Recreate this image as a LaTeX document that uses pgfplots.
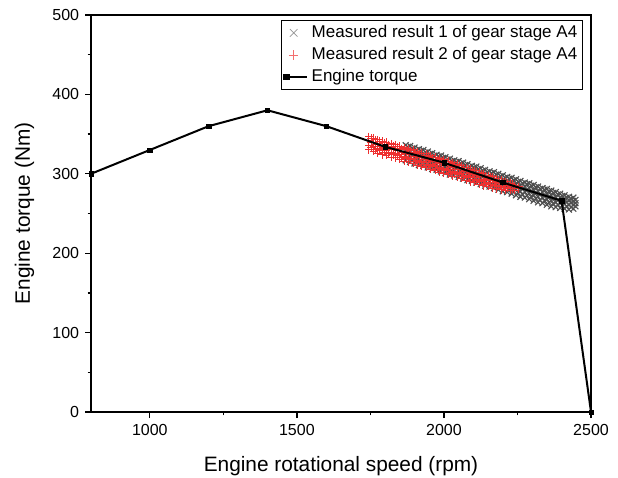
\documentclass[border=0pt]{standalone}
\usepackage{pgfplots}
\pgfplotsset{compat=1.18}
\usepackage{fontspec}
\setmainfont{Liberation Sans}
\definecolor{mgray}{RGB}{78,78,78}
\definecolor{lgray}{RGB}{150,150,150}
\definecolor{mred}{RGB}{238,48,48}
\begin{document}
\begin{tikzpicture}
\begin{axis}[
  set layers,
  scale only axis, width=300pt, height=238.2pt,
  xmin=800, xmax=2500, ymin=0, ymax=500,
  axis lines=box, tick pos=left, tick align=outside,
  xtick={1000,1500,2000,2500}, ytick={0,100,200,300,400,500},
  minor x tick num=1, minor y tick num=1,
  major tick length=3.6pt, minor tick length=2pt,
  axis line style={line width=0.8pt}, every tick/.style={line width=0.8pt, black},
  tick label style={font=\fontsize{9.6}{11}\selectfont},
  /pgf/number format/assume math mode=true,
  /pgf/number format/1000 sep={},
  xlabel={Engine rotational speed (rpm)}, ylabel={Engine torque (Nm)},
  label style={font=\fontsize{12.5}{14}\selectfont},
  xlabel style={yshift=-6pt}, ylabel style={yshift=4pt},
  legend style={at={(rel axis cs:0.984,0.988)}, anchor=north east, font=\fontsize{10.2}{12}\selectfont, draw=black, line width=0.5pt, inner sep=1.2pt, row sep=0.3pt, /tikz/every even column/.append style={column sep=2pt}},
  legend cell align=left,
]
\addplot[only marks, mark=x, mark size=2.5pt, color=mgray, line width=0.65pt,
  legend image code/.code={\draw[lgray, line width=0.4pt] (0.08cm,-0.08cm) -- (0.24cm,0.08cm) (0.08cm,0.08cm) -- (0.24cm,-0.08cm);}] table {
x y
1870 317
1870 324
1870 331
1870 336
1885 315
1885 322
1885 329
1885 335
1900 313
1900 320
1900 327
1900 333
1915 311
1915 319
1915 326
1915 331
1930 310
1930 317
1930 324
1930 330
1945 308
1945 315
1945 322
1945 328
1960 306
1960 313
1960 320
1960 326
1975 305
1975 312
1975 319
1975 324
1990 303
1990 310
1990 317
1990 323
2005 301
2005 308
2005 315
2005 321
2020 299
2020 306
2020 313
2020 319
2035 298
2035 305
2035 312
2035 317
2050 296
2050 303
2050 310
2050 316
2065 294
2065 301
2065 308
2065 314
2080 292
2080 299
2080 306
2080 312
2095 291
2095 298
2095 305
2095 310
2110 289
2110 296
2110 303
2110 309
2125 287
2125 294
2125 301
2125 307
2140 285
2140 292
2140 299
2140 305
2155 284
2155 291
2155 298
2155 303
2170 282
2170 289
2170 296
2170 302
2185 280
2185 287
2185 294
2185 300
2200 278
2200 285
2200 292
2200 298
2215 277
2215 284
2215 291
2215 296
2230 275
2230 282
2230 289
2230 295
2245 273
2245 280
2245 287
2245 293
2260 271
2260 278
2260 285
2260 291
2275 270
2275 277
2275 284
2275 289
2290 268
2290 275
2290 282
2290 288
2305 266
2305 273
2305 280
2305 286
2320 264
2320 271
2320 278
2320 284
2335 263
2335 270
2335 277
2335 282
2350 261
2350 268
2350 275
2350 281
2365 259
2365 266
2365 273
2365 279
2380 258
2380 264
2380 271
2380 277
2395 257
2395 263
2395 270
2395 275
2410 256
2410 262
2410 268
2410 273
2425 255
2425 261
2425 267
2425 271
2440 256
2440 261
2440 266
2440 270
1877 320
1877 327
1877 334
1892 318
1892 325
1892 332
1907 316
1907 323
1907 330
1922 314
1922 322
1922 329
1937 313
1937 320
1937 327
1952 311
1952 318
1952 325
1967 309
1967 316
1967 323
1982 308
1982 315
1982 322
1997 306
1997 313
1997 320
2012 304
2012 311
2012 318
2027 302
2027 309
2027 316
2042 301
2042 308
2042 315
2057 299
2057 306
2057 313
2072 297
2072 304
2072 311
2087 295
2087 302
2087 309
2102 294
2102 301
2102 308
2117 292
2117 299
2117 306
2132 290
2132 297
2132 304
2147 288
2147 295
2147 302
2162 287
2162 294
2162 301
2177 285
2177 292
2177 299
2192 283
2192 290
2192 297
2207 281
2207 288
2207 295
2222 280
2222 287
2222 294
2237 278
2237 285
2237 292
2252 276
2252 283
2252 290
2267 274
2267 281
2267 288
2282 273
2282 280
2282 287
2297 271
2297 278
2297 285
2312 269
2312 276
2312 283
2327 267
2327 274
2327 281
2342 266
2342 273
2342 280
2357 264
2357 271
2357 278
2372 262
2372 269
2372 276
2387 261
2387 267
2387 274
2402 260
2402 266
2402 272
2417 259
2417 264
2417 270
2432 258
2432 263
2432 268
2447 259
2447 263
2447 267
};
\addlegendentry{Measured result 1 of gear stage A4}
\addplot[only marks, mark=+, mark size=2.3pt, color=mred, line width=0.6pt,
  legend image code/.code={\draw[mred!70, line width=0.4pt] (0.06cm,0cm) -- (0.26cm,0cm) (0.16cm,-0.1cm) -- (0.16cm,0.1cm);}] table {
x y
1745 330
1745 336
1745 342
1745 347
1760 328
1760 334
1760 340
1760 345
1775 326
1775 332
1775 338
1775 343
1790 324
1790 330
1790 336
1790 341
1805 323
1805 329
1805 335
1805 340
1820 321
1820 327
1820 333
1820 338
1835 320
1835 326
1835 332
1835 337
1850 318
1850 324
1850 330
1850 335
1865 316
1865 322
1865 328
1865 333
1880 315
1880 321
1880 327
1880 332
1895 313
1895 319
1895 325
1895 330
1910 311
1910 317
1910 323
1910 328
1925 309
1925 315
1925 321
1925 326
1940 308
1940 314
1940 320
1940 325
1955 306
1955 312
1955 318
1955 323
1970 304
1970 310
1970 316
1970 321
1985 302
1985 308
1985 314
1985 319
2000 301
2000 307
2000 313
2000 318
2015 299
2015 305
2015 311
2015 316
2030 297
2030 303
2030 309
2030 314
2045 296
2045 302
2045 308
2045 312
2060 294
2060 300
2060 306
2060 310
2075 292
2075 298
2075 304
2075 308
2090 290
2090 296
2090 302
2090 306
2105 289
2105 295
2105 300
2105 304
2120 287
2120 293
2120 298
2120 302
2135 285
2135 291
2135 296
2135 300
2150 284
2150 289
2150 294
2150 298
2165 282
2165 287
2165 292
2165 296
2180 281
2180 285
2180 290
2180 294
2195 280
2195 284
2195 288
2195 292
2210 279
2210 283
2210 287
2210 290
2225 279
2225 282
2225 285
2225 288
2240 279
2240 282
2240 285
2255 281
2255 284
1752 333
1752 339
1752 345
1767 331
1767 337
1767 343
1782 329
1782 335
1782 341
1797 327
1797 333
1797 339
1812 326
1812 332
1812 337
1827 324
1827 330
1827 335
1842 323
1842 329
1842 334
1857 321
1857 327
1857 332
1872 319
1872 325
1872 330
1887 318
1887 324
1887 329
1902 316
1902 322
1902 327
1917 314
1917 320
1917 325
1932 312
1932 318
1932 323
1947 311
1947 317
1947 322
1962 309
1962 315
1962 320
1977 307
1977 313
1977 318
1992 305
1992 311
1992 316
2007 304
2007 310
2007 315
2022 302
2022 308
2022 313
2037 300
2037 306
2037 311
2052 299
2052 305
2052 310
2067 297
2067 303
2067 308
2082 295
2082 301
2082 306
2097 293
2097 299
2097 304
2112 292
2112 298
2112 302
2127 290
2127 296
2127 300
2142 288
2142 293
2142 297
2157 287
2157 291
2157 296
2172 285
2172 289
2172 294
2187 284
2187 288
2187 292
2202 283
2202 286
2202 290
2217 282
2217 285
2217 288
2232 281
2232 284
2232 287
};
\addlegendentry{Measured result 2 of gear stage A4}
\addplot[on layer=axis foreground, black, line width=1.2pt, mark=square*, mark size=1.3pt, mark options={line width=0.3pt},
  legend image code/.code={\draw[black, line width=1.1pt] (0cm,0cm) -- (0.45cm,0cm); \fill[black] (-0.04cm,-0.05cm) rectangle (0.06cm,0.05cm);}] coordinates {
(800,300) (1000,330) (1200,360) (1400,380) (1600,360) (1800,334) (2000,314) (2200,289) (2400,266) (2500,0)
};
\addlegendentry{Engine torque}
\coordinate (sw) at (rel axis cs:0,0);
\coordinate (ne) at (rel axis cs:1,1);
\end{axis}
\pgfresetboundingbox
\useasboundingbox ([shift={(-54.6pt,-39pt)}]sw) rectangle ([shift={(16.2pt,9pt)}]ne);
\end{tikzpicture}
\end{document}
